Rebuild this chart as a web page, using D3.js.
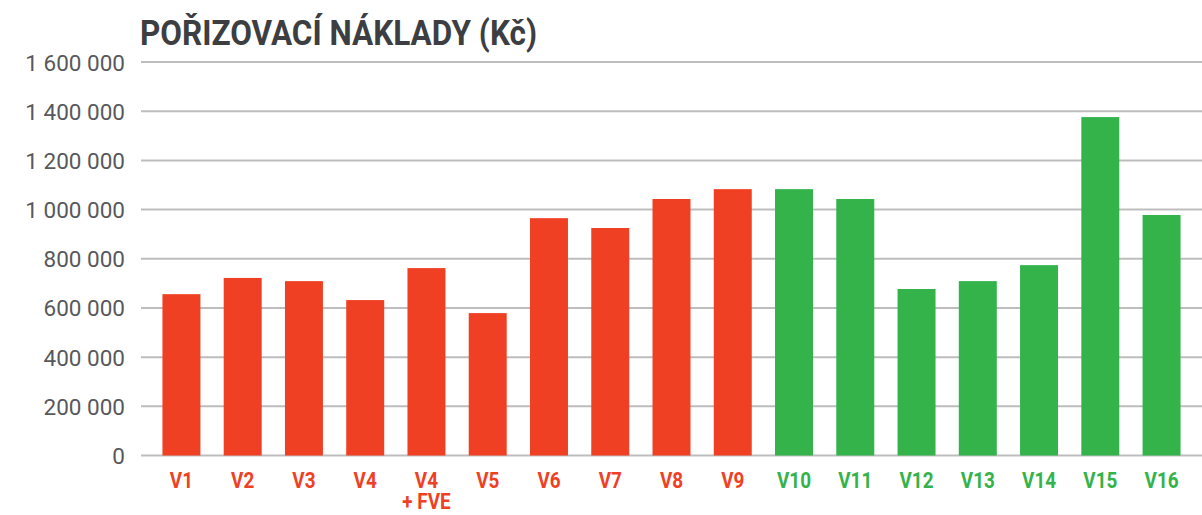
<!DOCTYPE html>
<html><head><meta charset="utf-8">
<script src="https://cdn.jsdelivr.net/npm/d3@7"></script>
<style>
html,body{margin:0;padding:0;background:#fff;}
svg{display:block;}
</style></head>
<body>
<svg id="chart" width="1202" height="515"></svg>
<script>
const categories = ["V1","V2","V3","V4","V4\n+ FVE","V5","V6","V7","V8","V9","V10","V11","V12","V13","V14","V15","V16"];
const values = [656000,722000,709000,632000,762000,579000,965000,925000,1043000,1083000,1083000,1043000,677000,709000,774000,1376000,978000];
const groups = ["red","red","red","red","red","red","red","red","red","red","green","green","green","green","green","green","green"];
const yTicks = [0,200000,400000,600000,800000,1000000,1200000,1400000,1600000];
const titleText = "POŘIZOVACÍ NÁKLADY (Kč)";

(function(){
const colors = {red:"#f04023", green:"#33b34a"};
const svg = d3.select("#chart");
const plotL = 141, plotR = 1202, plotT = 62, plotB = 455.5;

const x = d3.scaleBand().domain(d3.range(categories.length)).range([plotL,plotR]).paddingInner(0.38).paddingOuter(0.35);
const y = d3.scaleLinear().domain([0,1600000]).range([plotB,plotT]);

const fmt = v => d3.format(",")(v).replace(/,/g," ");

// grid lines
svg.append("g").selectAll("line").data(yTicks).join("line")
  .attr("x1",plotL).attr("x2",plotR)
  .attr("y1",d=>y(d)).attr("y2",d=>y(d))
  .attr("stroke","#bdbdbf").attr("stroke-width",2);

// y labels
svg.append("g").selectAll("text").data(yTicks).join("text")
  .attr("x",125).attr("y",d=>y(d)+8.5)
  .attr("text-anchor","end")
  .attr("font-family","Roboto")
  .attr("font-size",22.5)
  .attr("fill","#58595b")
  .text(fmt);

// bars
svg.append("g").selectAll("rect").data(values).join("rect")
  .attr("x",(d,i)=>x(i)).attr("width",x.bandwidth())
  .attr("y",d=>y(d)).attr("height",d=>plotB-y(d))
  .attr("fill",(d,i)=>colors[groups[i]]);

// x labels
const xl = svg.append("g").selectAll("text").data(categories).join("text")
  .attr("transform",(d,i)=>`translate(${x(i)+x.bandwidth()/2},488) scale(0.86,1)`)
  .attr("text-anchor","middle")
  .attr("font-family","Roboto")
  .attr("font-weight","bold")
  .attr("font-size",22)
  .attr("fill",(d,i)=>colors[groups[i]]);
xl.each(function(d){
  const lines = d.split("\n");
  d3.select(this).selectAll("tspan").data(lines).join("tspan")
    .attr("x",0).attr("dy",(l,j)=>j===0?0:21).text(l=>l);
});

// title
svg.append("text")
  .attr("x",140).attr("y",45)
  .attr("font-family","Roboto")
  .attr("font-weight","bold")
  .attr("font-size",35)
  .attr("fill","#3d3e42")
  .attr("textLength",397)
  .attr("lengthAdjust","spacingAndGlyphs")
  .text(titleText);
})();
</script>
</body></html>
